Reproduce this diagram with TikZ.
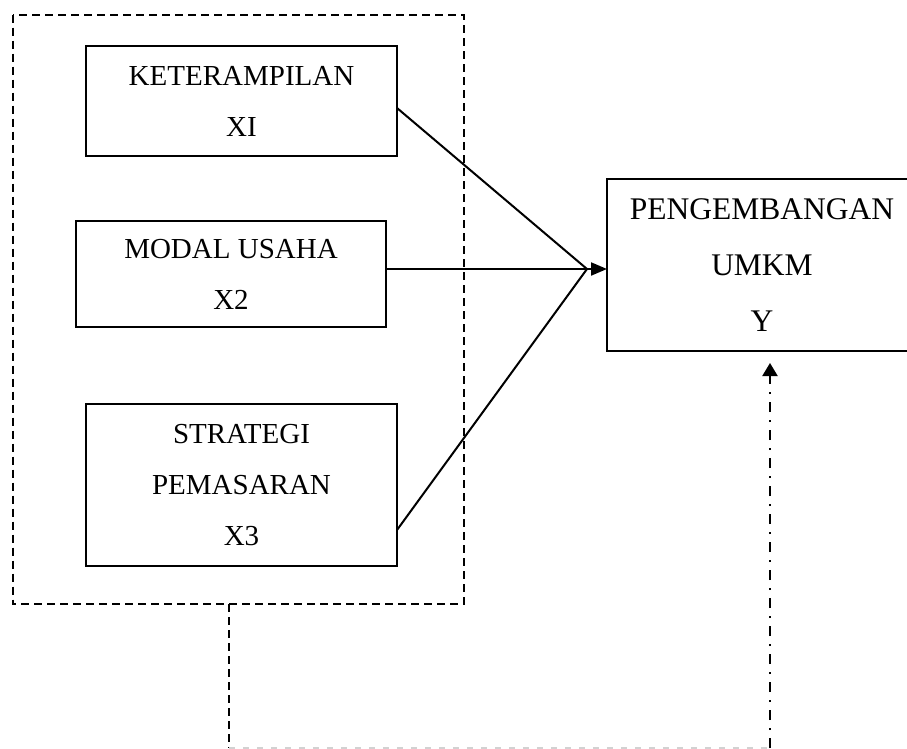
\documentclass[tikz,border=0pt]{standalone}
\usepackage{fontspec}
\setmainfont{Liberation Serif}
\usetikzlibrary{arrows.meta}
\begin{document}
\begin{tikzpicture}[x=1pt,y=-1pt,
  box/.style={draw,line width=2pt,rectangle,inner sep=0pt,align=center,
    font=\fontsize{29}{51}\selectfont},
  bigbox/.style={box,font=\fontsize{31.5}{56}\selectfont},
  conn/.style={line width=2pt},
  grp/.style={line width=2pt,dash pattern=on 8pt off 5pt},
  ret/.style={line width=2pt,dash pattern=on 10pt off 8pt on 2pt off 8pt},
  faint/.style={line width=1.2pt,gray!35,dash pattern=on 6pt off 8pt},
  tip/.style={-{Triangle[length=16pt,width=13pt]}}
]
\useasboundingbox (0,0) rectangle (907,749);
\clip (0,0) rectangle (907,749);
% group frame
\draw[grp] (12.7,14.7) rectangle (464,604);
% boxes
\node[box,minimum width=311pt,minimum height=110pt] (k) at (241.5,101) {KETERAMPILAN\\XI};
\node[box,minimum width=310pt,minimum height=106pt] (m) at (231,274) {MODAL USAHA\\X2};
\node[box,minimum width=311pt,minimum height=162pt] (s) at (241.5,485) {STRATEGI\\PEMASARAN\\X3};
\node[bigbox,minimum width=310pt,minimum height=172pt] (y) at (762,265) {PENGEMBANGAN\\UMKM\\Y};
% junction
\coordinate (j) at (587,269);
\coordinate (ka) at (397,108);
\coordinate (ma) at (386,269);
\coordinate (sa) at (397,530);
\coordinate (ya) at (607,269);
\draw[conn] (ka) -- (j);
\draw[conn] (sa) -- (j);
\draw[conn,tip] (ma) -- (ya);
% feedback path
\coordinate (g) at (229,604);
\coordinate (gb) at (229,748);
\coordinate (rb) at (770,748);
\coordinate (rt) at (770,363);
\draw[grp] (g) -- (gb);
\draw[faint] (gb) -- (rb);
\draw[ret,-{Triangle[length=13pt,width=15pt]}] (rb) -- (rt);
\end{tikzpicture}
\end{document}
